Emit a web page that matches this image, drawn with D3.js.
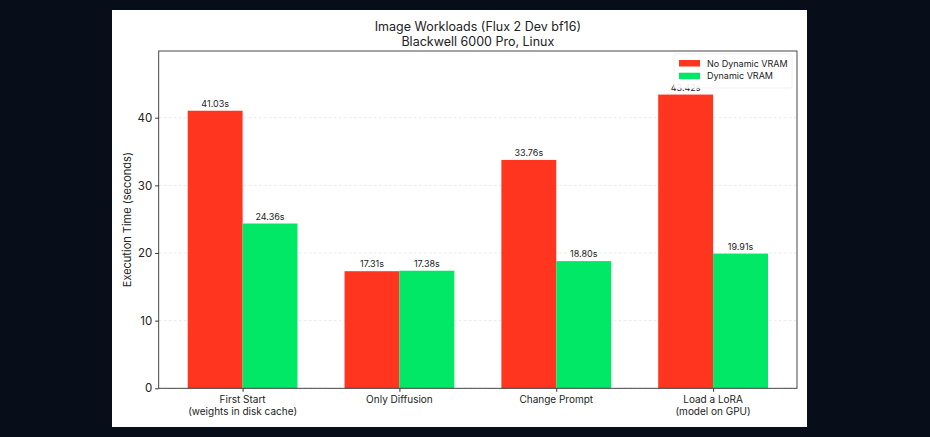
<!DOCTYPE html>
<html><head><meta charset="utf-8">
<script src="https://cdn.jsdelivr.net/npm/d3@7"></script>
<style>
html,body{margin:0;padding:0;background:#080d1a;}
svg{display:block;}
text{font-family:Inter,"Noto Sans",sans-serif;fill:#222;}
</style></head><body>
<svg id="c" width="930" height="437"></svg>
<script>
const categories = ["First Start\n(weights in disk cache)", "Only Diffusion", "Change Prompt", "Load a LoRA\n(model on GPU)"];
const seriesNames = ["No Dynamic VRAM", "Dynamic VRAM"];
const noDynamic = [41.03, 17.31, 33.76, 43.42];
const dynamicVram = [24.36, 17.38, 18.80, 19.91];
const yTicks = [0, 10, 20, 30, 40];
const colors = ["#ff3520", "#00e865"];
const titleLines = ["Image Workloads (Flux 2 Dev bf16)", "Blackwell 6000 Pro, Linux"];

const svg = d3.select("#c");
svg.append("rect").attr("x",112).attr("y",10).attr("width",695).attr("height",417).attr("fill","#fff");

const L=158.7, R=797, T=51, B=388.3;
const x = d3.scaleLinear().domain([-0.535, 3.535]).range([L, R]);
const y = d3.scaleLinear().domain([0, 49.86]).range([B, T]);
const bw = 0.35;

// grid
svg.append("g").selectAll("line").data(yTicks).join("line")
  .attr("x1",L).attr("x2",R).attr("y1",d=>y(d)).attr("y2",d=>y(d))
  .attr("stroke","#e4e4e4").attr("stroke-width",0.8).attr("stroke-dasharray","3,2");

const series = [noDynamic, dynamicVram];
series.forEach((vals, si) => {
  const off = si === 0 ? -bw/2 : bw/2;
  const g = svg.append("g");
  g.selectAll("rect").data(vals).join("rect")
    .attr("x", (d,i)=>x(i+off-bw/2)).attr("width", x(bw)-x(0))
    .attr("y", d=>y(d)).attr("height", d=>B-y(d)).attr("fill", colors[si]);
  g.selectAll("text").data(vals).join("text")
    .attr("x",(d,i)=>x(i+off)).attr("y",d=>y(d)-4)
    .attr("text-anchor","middle").attr("font-size",9).text(d=>d.toFixed(2)+"s");
});

// axes
const yAxis = d3.axisLeft(y).tickValues(yTicks).tickSize(3.5).tickPadding(3);
const gy = svg.append("g").attr("transform",`translate(${L},0)`).call(yAxis);
gy.select(".domain").remove();
gy.selectAll("text").attr("font-size",11.5).style("font-family","Inter,'Noto Sans',sans-serif").attr("fill","#222");
gy.selectAll("line").attr("stroke","#333");

const xAxis = d3.axisBottom(x).tickValues([0,1,2,3]).tickSize(3.5).tickFormat("");
const gx = svg.append("g").attr("transform",`translate(0,${B})`).call(xAxis);
gx.select(".domain").remove();
gx.selectAll("line").attr("stroke","#333");
categories.forEach((c,i)=>{
  const t = svg.append("text").attr("x",x(i)).attr("y",B+14.5).attr("text-anchor","middle").attr("font-size",10);
  c.split("\n").forEach((ln,k)=>t.append("tspan").attr("x",x(i)).attr("dy",k?11.8:0).text(ln));
});

// frame
svg.append("rect").attr("x",L).attr("y",T).attr("width",R-L).attr("height",B-T)
  .attr("fill","none").attr("stroke","#333").attr("stroke-width",0.9);

// y label
svg.append("text").attr("transform",`translate(131,${(T+B)/2}) rotate(-90)`)
  .attr("text-anchor","middle").attr("font-size",11).text("Execution Time (seconds)");

// title
titleLines.forEach((t,k)=>svg.append("text").attr("x",(L+R)/2).attr("y",31+k*14.5)
  .attr("text-anchor","middle").attr("font-size",12.5).text(t));

// legend
const lg = svg.append("g");
lg.append("rect").attr("x",674).attr("y",54).attr("width",118).attr("height",34).attr("rx",2)
  .attr("fill","#fff").attr("fill-opacity",0.9).attr("stroke","#eee").attr("stroke-width",0.8);
seriesNames.forEach((n,k)=>{
  lg.append("rect").attr("x",679).attr("y",60+k*12.7).attr("width",21).attr("height",6.5).attr("fill",colors[k]);
  lg.append("text").attr("x",707).attr("y",66.5+k*12.7).attr("font-size",9).text(n);
});
</script></body></html>
